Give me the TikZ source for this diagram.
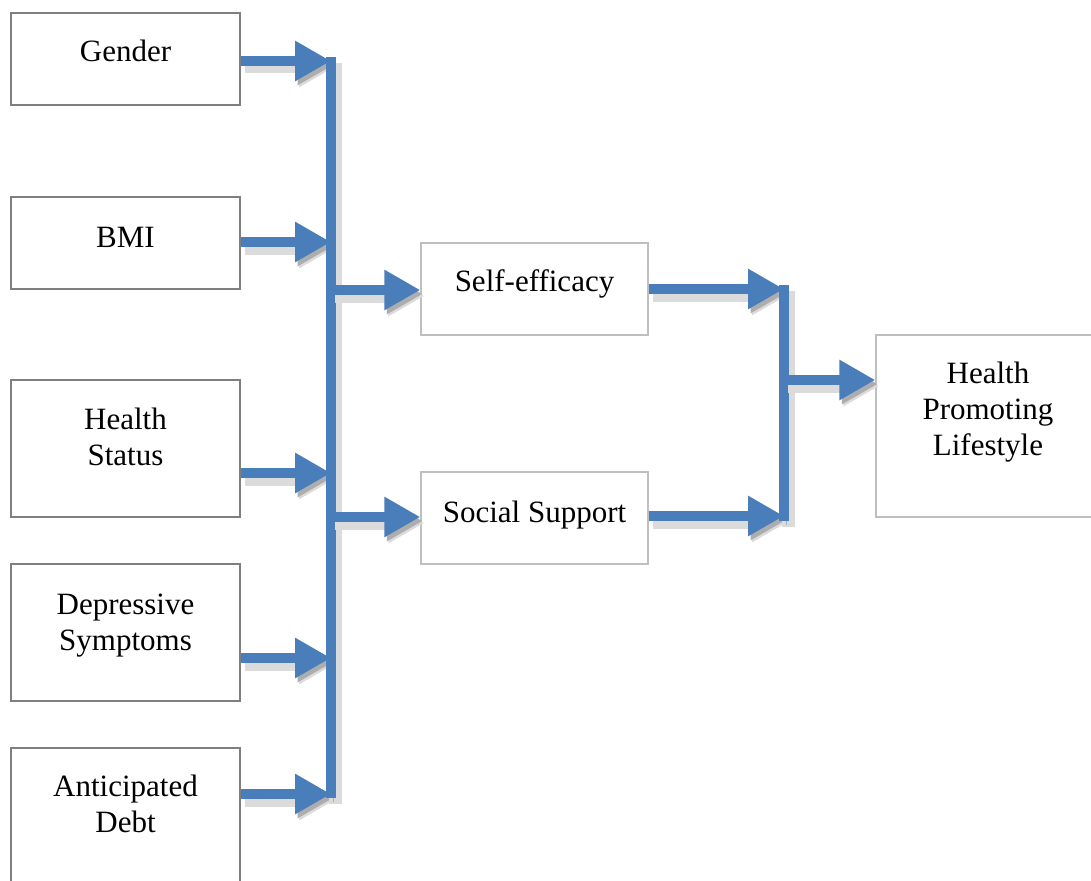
\documentclass[tikz,border=0pt]{standalone}
\usepackage{fontspec}
\setmainfont{Liberation Serif}
\usetikzlibrary{arrows.meta,calc}
\definecolor{arrblue}{HTML}{4A7EBB}
\definecolor{darkbox}{HTML}{7F7F7F}
\definecolor{lightbox}{HTML}{BFBFBF}
\tikzset{
  shadowed/.style={preaction={draw=black!14, line width=13pt,
      transform canvas={xshift=4pt,yshift=-6pt}},
    preaction={draw=black!32, transform canvas={xshift=2.5pt,yshift=-4pt}}},
  conn/.style={draw=arrblue, line width=10pt, shadowed,
      -{Triangle[length=36pt,width=38pt]}},
  barline/.style={draw=arrblue, line width=10pt, shadowed},
  lbox/.style={draw=darkbox, line width=2pt, fill=white, minimum width=229pt, inner sep=0pt},
  mbox/.style={draw=lightbox, line width=1.3pt, fill=white, inner sep=0pt},
  txt/.style={font=\fontsize{31}{36}\selectfont, align=center, inner sep=0pt, text depth=0pt},
}
\begin{document}
\begin{tikzpicture}[x=1pt,y=-1pt]
\useasboundingbox (0,0) rectangle (1091,880);
% boxes
\node[lbox, minimum height=92pt] (gender) at (125.5,59) {};
\node[lbox, minimum height=92pt] (bmi) at (125.5,243) {};
\node[lbox, minimum height=137pt] (hs) at (125.5,448.5) {};
\node[lbox, minimum height=137pt] (ds) at (125.5,632.5) {};
\node[lbox, minimum height=150pt] (ad) at (125.5,823) {};
\node[mbox, minimum width=227pt, minimum height=92pt] (se) at (534.5,289) {};
\node[mbox, minimum width=227pt, minimum height=92pt] (ss) at (534.5,518) {};
\node[mbox, minimum width=230pt, minimum height=182pt] (hpl) at (991,426) {};
% texts
\node[txt] (gender-t) at (125.5,51) {Gender};
\node[txt] (bmi-t) at (125.5,237) {BMI};
\node[txt] (hs-t) at (125.5,437) {Health\\Status};
\node[txt] (ds-t) at (125.5,622) {Depressive\\Symptoms};
\node[txt] (ad-t) at (125.5,804) {Anticipated\\Debt};
\node[txt] (se-t) at (534.5,280.5) {Self-efficacy};
\node[txt] (ss-t) at (534.5,511.5) {Social Support};
\node[txt] (hpl-t) at (988,409) {Health\\Promoting\\Lifestyle};
% junction points
\coordinate (lTop) at (331,57);
\coordinate (lBot) at (331,798);
\coordinate (rTop) at (784,285);
\coordinate (rBot) at (784,521);
% connectors into left bar
\draw[conn] ($(gender.east)+(0,2)$) -- (lTop |- {$(gender.east)+(0,2)$});
\draw[conn] ($(bmi.east)+(0,-1)$) -- (lTop |- {$(bmi.east)+(0,-1)$});
\draw[conn] ($(hs.east)+(0,24.5)$) -- (lTop |- {$(hs.east)+(0,24.5)$});
\draw[conn] ($(ds.east)+(0,25.5)$) -- (lTop |- {$(ds.east)+(0,25.5)$});
\draw[conn] (ad.east |- lBot) ++(0,-4) coordinate (adS) -- (lTop |- adS);
% left bar
\draw[barline] (lTop) -- (lBot);
% bar to mediators
\draw[conn] (lTop |- se.west) ++(0,1) coordinate (seS) -- (se.west |- seS);
\draw[conn] (lTop |- ss.west) ++(0,-1) coordinate (ssS) -- (ss.west |- ssS);
% mediators to right bar
\draw[conn] (se.east) -- (rTop |- se.east);
\draw[conn] ($(ss.east)+(0,-2)$) -- (rTop |- {$(ss.east)+(0,-2)$});
% right bar
\draw[barline] (rTop) -- (rBot);
% right bar to outcome
\draw[conn] (rTop |- hpl.west) ++(0,-46) coordinate (hS) -- (hpl.west |- hS);
\end{tikzpicture}
\end{document}
